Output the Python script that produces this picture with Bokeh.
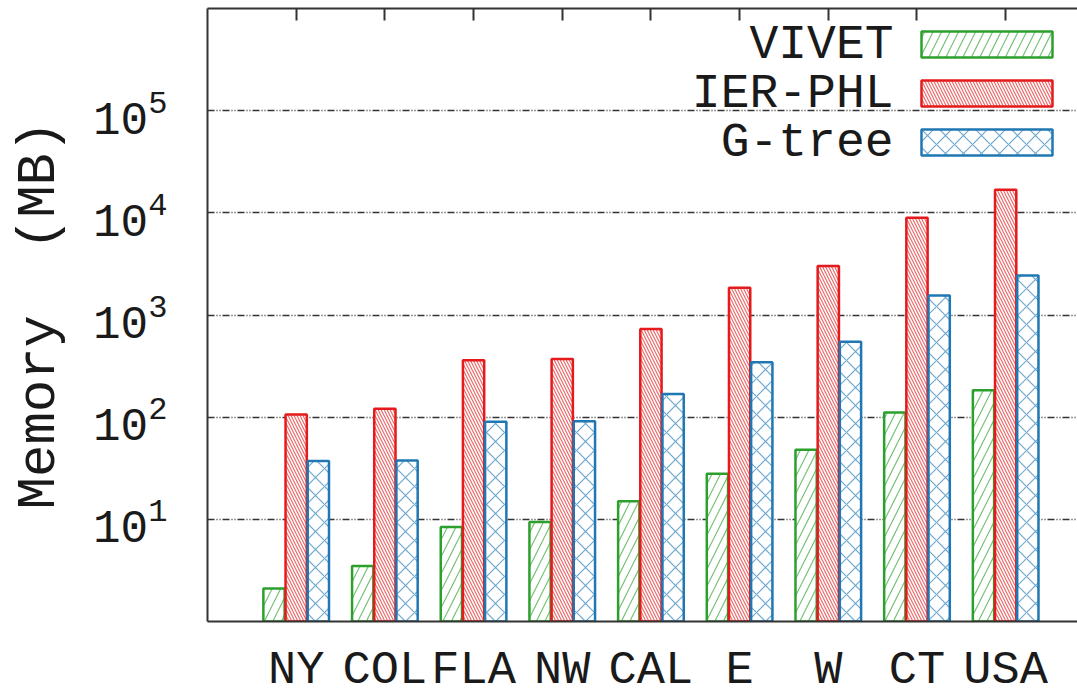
from bokeh.plotting import figure
from bokeh.models import (Range1d, FixedTicker, LinearAxis, BoxAnnotation, Label,
                          ColumnDataSource)
from bokeh.transform import dodge
from bokeh.embed import file_html
from bokeh.resources import INLINE

# ---- data ----
regions = ["NY", "COL", "FLA", "NW", "CAL", "E", "W", "CT", "USA"]
vivet = [2.1, 3.5, 8.4, 9.4, 15, 28, 48, 111, 183]
ier_phl = [106, 121, 360, 372, 728, 1850, 3020, 8930, 16800]
g_tree = [37.3, 37.6, 90, 91, 169, 345, 546, 1550, 2440]
series_names = ["VIVET", "IER-PHL", "G-tree"]
y_ticks = [1e1, 1e2, 1e3, 1e4, 1e5]

# ---- styles ----
FONT = "Liberation Mono"
TXT = "#1a1a1a"
AX = "#333333"
colors = ["#2ca02c", "#e41a1c", "#1f78b4"]
hatches = ["right_diagonal_line", "left_diagonal_line", "diagonal_cross"]
hscale = [17, 6, 18]
offsets = [-0.25, 0.0, 0.25]

src = ColumnDataSource(dict(x=list(range(len(regions))), vivet=vivet,
                            ier=ier_phl, gtree=g_tree))
cols = ["vivet", "ier", "gtree"]

p = figure(width=1077, height=699, y_axis_type="log",
           x_range=Range1d(-1.0, 8.81), y_range=Range1d(1, 1e6),
           output_backend="svg", toolbar_location=None,
           min_border_left=207, min_border_right=0, min_border_top=8,
           min_border_bottom=78)
p.outline_line_color = None
p.background_fill_color = "white"
p.border_fill_color = "white"

for c, col, h, hs, off in zip(colors, cols, hatches, hscale, offsets):
    p.vbar(x=dodge("x", off), top=col, bottom=1, width=0.24, source=src,
           fill_color="white", line_color=c, line_width=2.5,
           hatch_pattern=h, hatch_color=c, hatch_alpha=0.65,
           hatch_scale=hs, hatch_weight=1.2)

# grid
p.xgrid.visible = False
p.ygrid.grid_line_color = AX
p.ygrid.grid_line_width = 1.3
p.ygrid.grid_line_dash = "7 2 1 2 1 2"
p.ygrid.minor_grid_line_color = None

# y axis
ya = p.yaxis[0]
ya.ticker = FixedTicker(ticks=y_ticks, minor_ticks=[])
ya.axis_line_color = AX
ya.axis_line_width = 2
ya.major_tick_out = 0
ya.major_tick_in = 0
ya.minor_tick_out = 0
ya.minor_tick_in = 0
ya.major_label_text_font = FONT
ya.major_label_text_font_size = "46px"
ya.major_label_text_color = TXT
ya.major_label_standoff = 40
ya.axis_label = "Memory \u00a0(MB)"
ya.axis_label_text_font = FONT
ya.axis_label_text_font_size = "54px"
ya.axis_label_text_font_style = "normal"
ya.axis_label_text_color = TXT
ya.axis_label_standoff = 20

# x axis (bottom)
xa = p.xaxis[0]
xa.ticker = FixedTicker(ticks=list(range(len(regions))), minor_ticks=[])
xa.major_label_overrides = {i: r for i, r in enumerate(regions)}
xa.axis_line_color = AX
xa.axis_line_width = 2
xa.major_tick_out = 0
xa.major_tick_in = 0
xa.minor_tick_out = 0
xa.minor_tick_in = 0
xa.major_label_text_font = FONT
xa.major_label_text_font_size = "47px"
xa.major_label_text_color = TXT
xa.major_label_standoff = 22

# top axis with inward ticks
ta = LinearAxis(ticker=FixedTicker(ticks=list(range(len(regions))), minor_ticks=[]))
ta.major_label_overrides = {i: "" for i in range(len(regions))}
ta.axis_line_color = AX
ta.axis_line_width = 2
ta.major_tick_in = 12
ta.major_tick_out = 0
ta.major_tick_line_color = AX
ta.major_tick_line_width = 2
ta.minor_tick_out = 0
ta.minor_tick_in = 0
ta.major_label_standoff = 0
p.add_layout(ta, "above")

# legend (manual, label left of swatch)
row_top = [31, 80, 129]
row_h = 26
for name, c, h, hs, t in zip(series_names, colors, hatches, hscale, row_top):
    p.add_layout(BoxAnnotation(left=921, right=1052, top=t, bottom=t + row_h,
                               left_units="canvas", right_units="canvas",
                               top_units="canvas", bottom_units="canvas",
                               fill_color="white", fill_alpha=1,
                               line_color=c, line_width=2.5, line_alpha=1,
                               hatch_pattern=h, hatch_color=c, hatch_alpha=0.65,
                               hatch_scale=hs, hatch_weight=1.2))
    p.add_layout(Label(x=893, y=t + row_h / 2, x_units="canvas", y_units="canvas",
                       text=name, text_align="right", text_baseline="middle",
                       text_font=FONT, text_font_size="48px", text_color=TXT))

open("out.html", "w").write(file_html(p, INLINE))
